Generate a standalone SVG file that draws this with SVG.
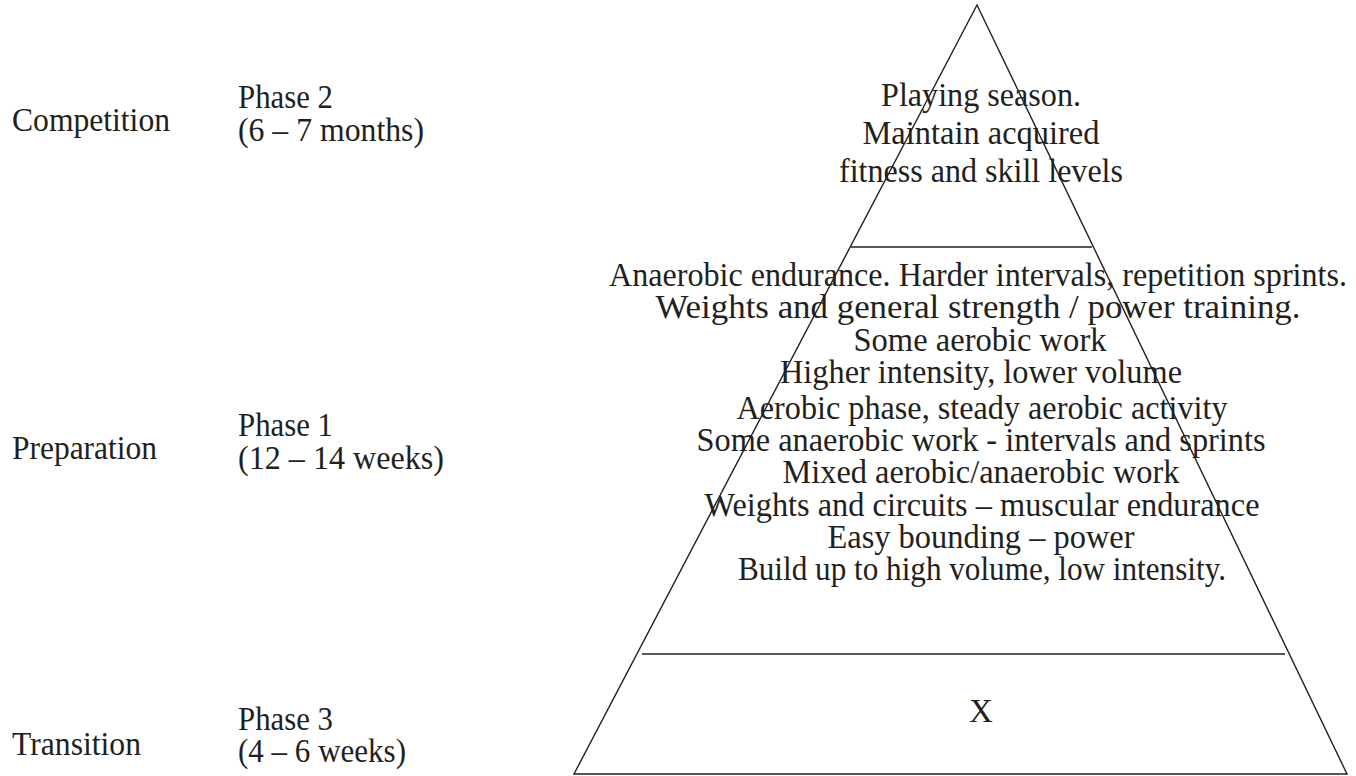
<svg xmlns="http://www.w3.org/2000/svg" width="1356" height="776" viewBox="0 0 1356 776">
<style>
text{font-family:"Liberation Serif","Times New Roman",serif;fill:#231f20}
.lab{font-size:33px}
.py{font-size:33px;text-anchor:middle}
.ln{stroke:#231f20;stroke-width:1.4;fill:none}
</style>
<rect width="1356" height="776" fill="#fff"/>
<g id="labels">
<text class="lab" x="12" y="131" textLength="158" lengthAdjust="spacingAndGlyphs">Competition</text>
<text class="lab" x="238" y="108" textLength="95" lengthAdjust="spacingAndGlyphs">Phase 2</text>
<text class="lab" x="238" y="141" textLength="186" lengthAdjust="spacingAndGlyphs">(6 – 7 months)</text>
<text class="lab" x="12" y="459" textLength="145" lengthAdjust="spacingAndGlyphs">Preparation</text>
<text class="lab" x="238" y="436" textLength="95" lengthAdjust="spacingAndGlyphs">Phase 1</text>
<text class="lab" x="238" y="469" textLength="206" lengthAdjust="spacingAndGlyphs">(12 – 14 weeks)</text>
<text class="lab" x="12" y="755" textLength="129" lengthAdjust="spacingAndGlyphs">Transition</text>
<text class="lab" x="238" y="730" textLength="95" lengthAdjust="spacingAndGlyphs">Phase 3</text>
<text class="lab" x="238" y="762" textLength="168" lengthAdjust="spacingAndGlyphs">(4 – 6 weeks)</text>
</g>
<g id="pyramid">
<polygon class="ln" points="977,5 1347,774 574,774"/>
<line class="ln" x1="851" y1="247" x2="1092" y2="247"/>
<line class="ln" x1="642" y1="654" x2="1285" y2="654"/>
</g>
<g id="top">
<text class="py" x="981" y="106" textLength="200" lengthAdjust="spacingAndGlyphs">Playing season.</text>
<text class="py" x="981" y="144" textLength="237" lengthAdjust="spacingAndGlyphs">Maintain acquired</text>
<text class="py" x="981" y="182" textLength="284" lengthAdjust="spacingAndGlyphs">fitness and skill levels</text>
</g>
<g id="middle">
<text class="py" x="978" y="286" textLength="738" lengthAdjust="spacingAndGlyphs">Anaerobic endurance. Harder intervals, repetition sprints.</text>
<text class="py" x="978" y="318" textLength="645" lengthAdjust="spacingAndGlyphs">Weights and general strength / power training.</text>
<text class="py" x="980" y="351" textLength="253" lengthAdjust="spacingAndGlyphs">Some aerobic work</text>
<text class="py" x="981" y="383" textLength="402" lengthAdjust="spacingAndGlyphs">Higher intensity, lower volume</text>
<text class="py" x="982" y="419" textLength="491" lengthAdjust="spacingAndGlyphs">Aerobic phase, steady aerobic activity</text>
<text class="py" x="981" y="451" textLength="569" lengthAdjust="spacingAndGlyphs">Some anaerobic work - intervals and sprints</text>
<text class="py" x="981" y="483" textLength="397" lengthAdjust="spacingAndGlyphs">Mixed aerobic/anaerobic work</text>
<text class="py" x="982" y="516" textLength="555" lengthAdjust="spacingAndGlyphs">Weights and circuits – muscular endurance</text>
<text class="py" x="981" y="548" textLength="307" lengthAdjust="spacingAndGlyphs">Easy bounding – power</text>
<text class="py" x="982" y="580" textLength="488" lengthAdjust="spacingAndGlyphs">Build up to high volume, low intensity.</text>
</g>
<g id="bottom">
<text class="py" x="981" y="722">X</text>
</g>
</svg>
